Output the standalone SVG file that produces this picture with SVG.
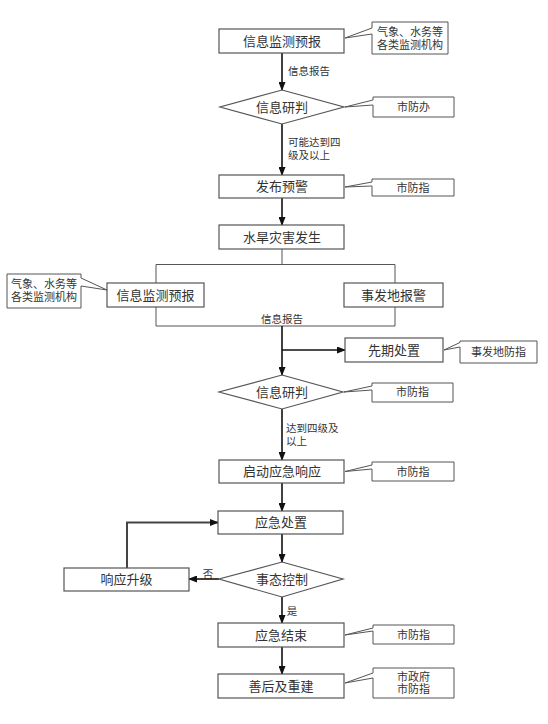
<svg xmlns="http://www.w3.org/2000/svg" width="548" height="724" viewBox="0 0 548 724">
<defs>
<marker id="arr" markerWidth="9" markerHeight="7" refX="8" refY="3.5" orient="auto" markerUnits="userSpaceOnUse">
<path d="M0,0 L9,3.5 L0,7 Z" fill="#111"/>
</marker>
<style>
.box{fill:#fff;stroke:#555;stroke-width:1.2}
.call{fill:#fff;stroke:#555;stroke-width:1}
.t{font-family:"Liberation Serif","Noto Sans CJK SC",serif;font-size:13px;fill:#333;text-anchor:middle}
.ct{font-family:"Liberation Serif","Noto Sans CJK SC",serif;font-size:11px;fill:#333;text-anchor:middle}
.lt{font-family:"Liberation Serif","Noto Sans CJK SC",serif;font-size:10.5px;fill:#333}
.a{fill:none;stroke:#111;stroke-width:1.6;marker-end:url(#arr)}
.thin{fill:none;stroke:#555;stroke-width:1}
.loop{fill:none;stroke:#444;stroke-width:2;marker-end:url(#arr)}
</style>
</defs>
<rect width="548" height="724" fill="#fff"/>

<g id="connectors">
<path class="a" d="M282,53 V90"/>
<path class="a" d="M282,124 V175"/>
<path class="a" d="M282,198 V225"/>
<path class="thin" d="M282,249 V264.5 M156,264.5 H395 M156,264.5 V283 M395,264.5 V283"/>
<path class="thin" d="M156,307 V326 H395 V307"/>
<path class="a" d="M282,326 V375"/>
<path class="a" d="M282,350 H345"/>
<path class="a" d="M282,409 V460"/>
<path class="a" d="M282,483 V511"/>
<path class="a" d="M282,534 V562"/>
<path class="a" d="M219,579 H189"/>
<path class="loop" d="M127,568 V522.5 H218"/>
<path class="a" d="M282,597 V623"/>
<path class="a" d="M282,647 V674"/>
<text class="lt" x="288" y="74.5">信息报告</text>
<text class="lt" x="288" y="146">可能达到四</text>
<text class="lt" x="288" y="159">级及以上</text>
<text class="lt" x="282" y="323" text-anchor="middle">信息报告</text>
<text class="lt" x="286" y="431.5">达到四级及</text>
<text class="lt" x="286" y="444.5">以上</text>
<text class="lt" x="208" y="578" text-anchor="middle" font-size="11.5">否</text>
<text class="lt" x="292" y="615" text-anchor="middle" font-size="11.5">是</text>
</g>

<g id="n1"><rect class="box" x="219" y="29" width="125" height="24"/><text class="t" x="282" y="45.5">信息监测预报</text></g>
<g id="c1"><path class="call" d="M372,22 H448 V54 H372 V34 L345,38 L372,28 Z"/><text class="ct" x="410" y="35.5">气象、水务等</text><text class="ct" x="410" y="49">各类监测机构</text></g>

<g id="n2"><polygon class="box" points="282,90 344,107 282,124 220,107"/><text class="t" x="282" y="111.5">信息研判</text></g>
<g id="c2"><path class="call" d="M373,97 H454 V117 H373 V105 L345,107 L373,100 Z"/><text class="ct" x="413.5" y="111">市防办</text></g>

<g id="n3"><rect class="box" x="219" y="175" width="125" height="23"/><text class="t" x="282" y="191">发布预警</text></g>
<g id="c3"><path class="call" d="M372,179 H454 V196 H372 V186 L345,187 L372,182 Z"/><text class="ct" x="413" y="191.5">市防指</text></g>

<g id="n4"><rect class="box" x="219" y="225" width="125" height="24"/><text class="t" x="282" y="241.5">水旱灾害发生</text></g>

<g id="n5"><rect class="box" x="107" y="283" width="97" height="24"/><text class="t" x="155.5" y="299.5">信息监测预报</text></g>
<g id="c5"><path class="call" d="M7,274 H81 V278 L107,290 L81,286 V308 H7 Z"/><text class="ct" x="44" y="288">气象、水务等</text><text class="ct" x="44" y="300.5">各类监测机构</text></g>

<g id="n6"><rect class="box" x="344" y="283" width="99" height="24"/><text class="t" x="393.5" y="299.5">事发地报警</text></g>

<g id="n7"><rect class="box" x="345" y="338" width="98" height="24"/><text class="t" x="394" y="354.5">先期处置</text></g>
<g id="c7"><path class="call" d="M460,341 H537 V363 H460 V347 L444,350 L460,342.5 Z"/><text class="ct" x="498.5" y="356">事发地防指</text></g>

<g id="n8"><polygon class="box" points="282,375 343,392 282,409 219,392"/><text class="t" x="282" y="396.5">信息研判</text></g>
<g id="c8"><path class="call" d="M372,383 H453 V402 H372 V390 L344,392 L372,386 Z"/><text class="ct" x="412.5" y="396">市防指</text></g>

<g id="n9"><rect class="box" x="219" y="460" width="125" height="23"/><text class="t" x="282" y="476">启动应急响应</text></g>
<g id="c9"><path class="call" d="M372,462 H454 V481 H372 V469 L345,471.5 L372,465 Z"/><text class="ct" x="413" y="475.5">市防指</text></g>

<g id="n10"><rect class="box" x="218" y="511" width="125" height="23"/><text class="t" x="281" y="527">应急处置</text></g>

<g id="n11"><polygon class="box" points="282,562 343,579 282,597 219,579"/><text class="t" x="282" y="584">事态控制</text></g>

<g id="n12"><rect class="box" x="64" y="568" width="125" height="23"/><text class="t" x="126.5" y="584">响应升级</text></g>

<g id="n13"><rect class="box" x="218" y="623" width="126" height="24"/><text class="t" x="281" y="639.5">应急结束</text></g>
<g id="c13"><path class="call" d="M373,625 H454 V644 H373 V631 L345,635 L373,628 Z"/><text class="ct" x="413.5" y="638.5">市防指</text></g>

<g id="n14"><rect class="box" x="218" y="674" width="126" height="24"/><text class="t" x="281" y="690.5">善后及重建</text></g>
<g id="c14"><path class="call" d="M373,668 H454 V698 H373 V678 L345,683 L373,673 Z"/><text class="ct" x="413.5" y="680.5">市政府</text><text class="ct" x="413.5" y="692.5">市防指</text></g>
</svg>
